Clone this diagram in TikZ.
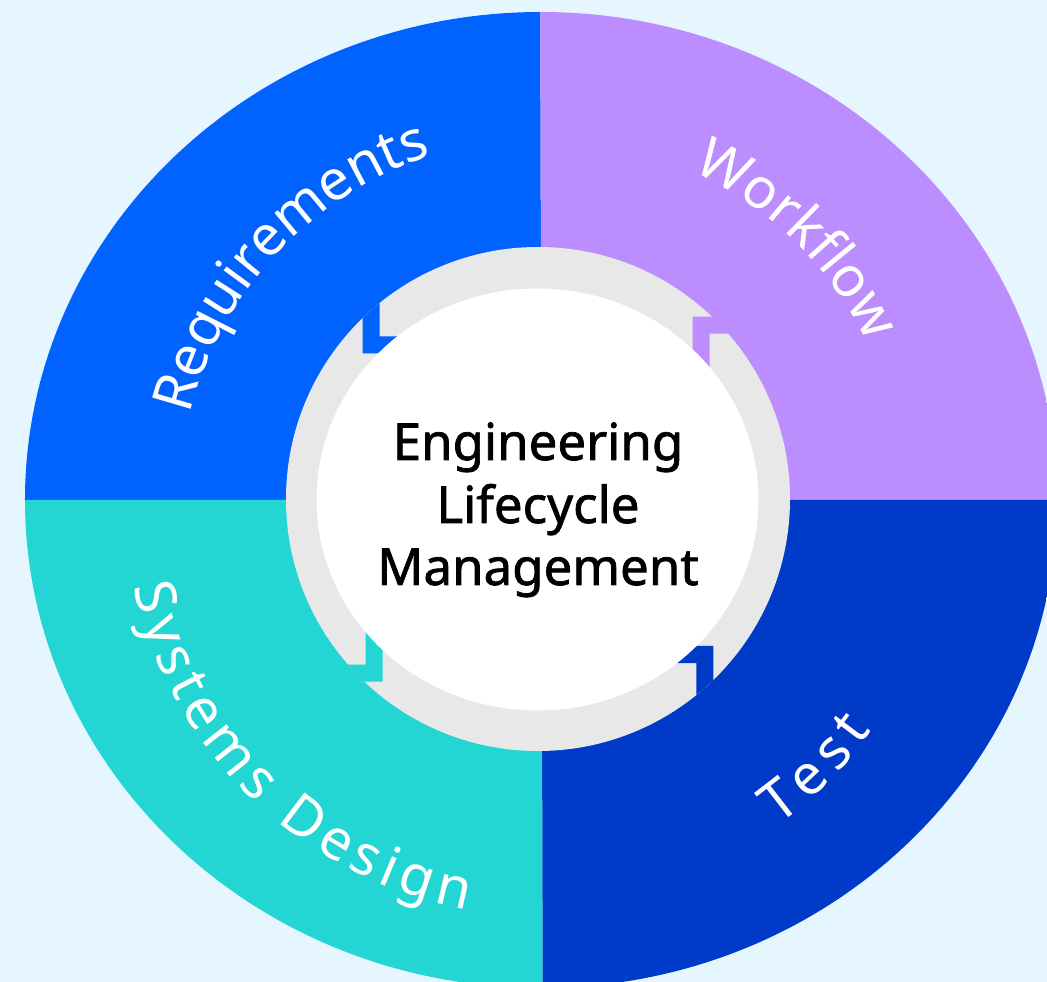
\documentclass[tikz,border=0pt]{standalone}
\usepackage{fontspec}
\usetikzlibrary{decorations.text}
\newfontfamily\ringfont{Noto Sans}
\newfontfamily\hubfont[FakeBold=1.4]{Noto Sans}
\definecolor{bgc}{HTML}{E5F6FF}
\definecolor{reqc}{HTML}{0062FF}
\definecolor{wfc}{HTML}{BC8DFF}
\definecolor{sdc}{HTML}{23D6D3}
\definecolor{testc}{HTML}{003AC8}
\definecolor{ringc}{HTML}{E8E8E8}
\tikzset{
  hubtext/.style={anchor=base, text=black, inner sep=0pt, font=\hubfont\fontsize{51}{60}\selectfont},
  ringlabel/.style={decorate, decoration={text along path, text align=center, text color=white}}
}
\newcommand\chevpath{(0,0) -- (0,70) -- (17,70) -- (17,17) -- (70,17) -- (70,0) -- cycle}
\begin{document}
\begin{tikzpicture}[x=1pt,y=1pt]
\useasboundingbox (-541,-482) rectangle (506,500);
\fill[bgc] (-541,-482) rectangle (506,500);
\coordinate (O) at (0,0);
\coordinate (G) at (-3,1);
\coordinate (W) at (-3.5,0.5);
% quadrants
\begin{scope}
  \clip (O) ellipse [x radius=516, y radius=488];
  \fill[reqc]  (-600,0) -- (0.5,0) -- (-1,600) -- (-600,600) -- cycle;
  \fill[wfc]   (0.5,0) -- (600,0) -- (600,600) -- (-1,600) -- cycle;
  \fill[sdc]   (-600,0) -- (0.5,0) -- (2,-600) -- (-600,-600) -- cycle;
  \fill[testc] (0.5,0) -- (600,0) -- (600,-600) -- (2,-600) -- cycle;
\end{scope}
% gray ring
\fill[ringc] (G) circle [radius=252];
\begin{scope}
  \clip (G) circle [radius=252];
  \fill[reqc]  [shift={(-178.3,146.7)}] \chevpath;
  \fill[wfc]   [shift={(151.7,183.3)}, yscale=-1] \chevpath;
  \fill[sdc]   [shift={(-158.3,-181.7)}, xscale=-1] \chevpath;
  \fill[testc] [shift={(172.3,-146)}, xscale=-1, yscale=-1] \chevpath;
\end{scope}
\fill[ringc] (G) circle [radius=214];
\fill[white] (W) ellipse [x radius=221, y radius=211];
% hub text
\node[hubtext] (h1) at (-3,40) {Engineering};
\node[hubtext] (h2) at (-3,-23) {Lifecycle};
\node[hubtext] (h3) at (-3,-85) {Management};
% ring labels
\path[ringlabel, decoration={text={|\ringfont\fontsize{56}{56}\selectfont|Requirements}}]
  (182:361) arc [start angle=182, end angle=92, radius=361];
\path[ringlabel, decoration={text={|\ringfont\fontsize{56}{56}\selectfont|Workflow}}]
  (86:362) arc [start angle=86, end angle=5, radius=362];
\path[ringlabel, decoration={text={|\ringfont\fontsize{56}{56}\selectfont\kern6pt|Systems Design}}]
  (178:416) arc [start angle=178, end angle=273, radius=416];
\path[ringlabel, decoration={text={|\ringfont\fontsize{56}{56}\selectfont\kern8pt|Test}}]
  (284:403) arc [start angle=284, end angle=346, radius=403];
\end{tikzpicture}
\end{document}
